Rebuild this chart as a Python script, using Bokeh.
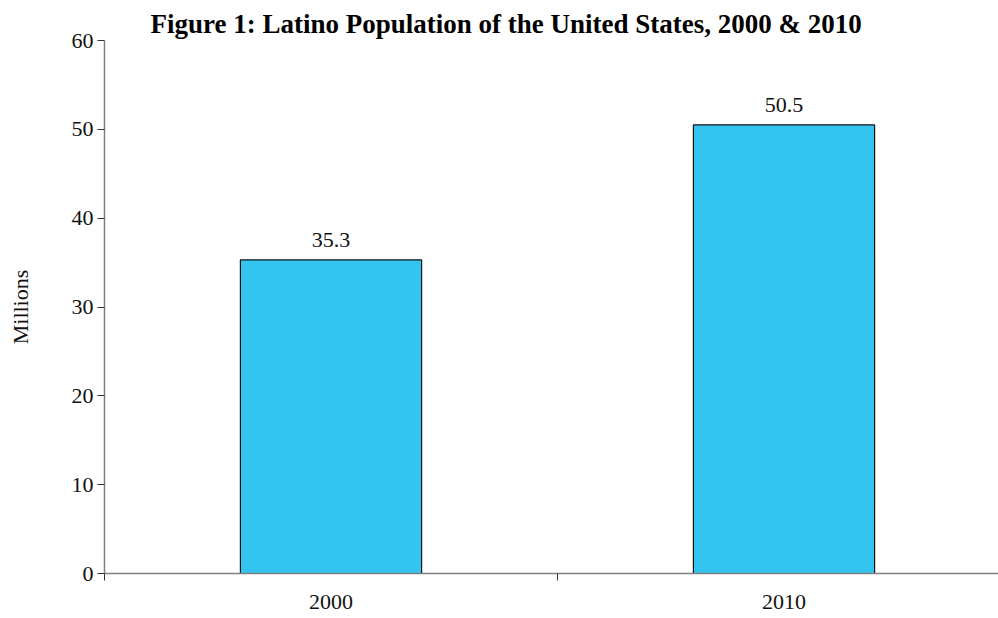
from bokeh.plotting import figure
from bokeh.models import Range1d, FixedTicker, Title, ColumnDataSource
from bokeh.core.properties import value
from bokeh.embed import file_html
from bokeh.resources import INLINE

years = ["2000", "2010"]
population = [35.3, 50.5]
y_ticks = [0, 10, 20, 30, 40, 50, 60]
title_text = "Figure 1: Latino Population of the United States, 2000 & 2010"
y_label = "Millions"

FONT = "Liberation Serif"

xpos = [i + 0.5 for i in range(len(years))]
src = ColumnDataSource(dict(x=xpos, top=population,
                            lbl=[f"{v:.1f}" for v in population]))

p = figure(width=998, height=618, output_backend="svg", toolbar_location=None,
           x_range=Range1d(0, 1.9735), y_range=Range1d(0, 60),
           min_border_left=104, min_border_right=0, min_border_top=40,
           min_border_bottom=45)
p.outline_line_color = None
p.grid.visible = False
p.background_fill_color = "white"
p.border_fill_color = "white"

p.vbar(x="x", top="top", width=0.4, source=src, fill_color="#33C4EF",
       line_color="#111111", line_width=1.2)
p.text(x="x", y="top", text="lbl", source=src, text_align="center",
       text_baseline="alphabetic", y_offset=-20, text_font=value(FONT),
       text_font_size="22px", text_color="#111111")

# x axis
p.xaxis.ticker = FixedTicker(ticks=xpos, minor_ticks=[0, 1])
p.xaxis.major_label_overrides = {x: y for x, y in zip(xpos, years)}
p.xaxis.major_tick_out = 0
p.xaxis.major_tick_in = 0
p.xaxis.minor_tick_out = 7
p.xaxis.minor_tick_in = 0
p.xaxis.minor_tick_line_color = "#333333"
p.xaxis.axis_line_color = "#808080"
p.xaxis.axis_line_width = 1.5
p.xaxis.major_label_standoff = 14
p.xaxis.major_label_text_font = FONT
p.xaxis.major_label_text_font_size = "22px"
p.xaxis.major_label_text_color = "#111111"

# y axis
p.yaxis.ticker = FixedTicker(ticks=y_ticks)
p.yaxis.minor_tick_line_color = None
p.yaxis.major_tick_out = 7
p.yaxis.major_tick_in = 0
p.yaxis.major_tick_line_color = "#333333"
p.yaxis.axis_line_color = "#808080"
p.yaxis.axis_line_width = 1.5
p.yaxis.major_label_standoff = 4
p.yaxis.major_label_text_font = FONT
p.yaxis.major_label_text_font_size = "22px"
p.yaxis.major_label_text_color = "#111111"
p.yaxis.axis_label = y_label
p.yaxis.axis_label_text_font = FONT
p.yaxis.axis_label_text_font_size = "22px"
p.yaxis.axis_label_text_font_style = "normal"
p.yaxis.axis_label_text_color = "#111111"
p.yaxis.axis_label_standoff = 36

p.title = Title(text=title_text, align="left", offset=46, standoff=3,
                text_font=FONT, text_font_size="27px", text_font_style="bold",
                text_color="#000000")

open("out.html", "w").write(file_html(p, INLINE))
